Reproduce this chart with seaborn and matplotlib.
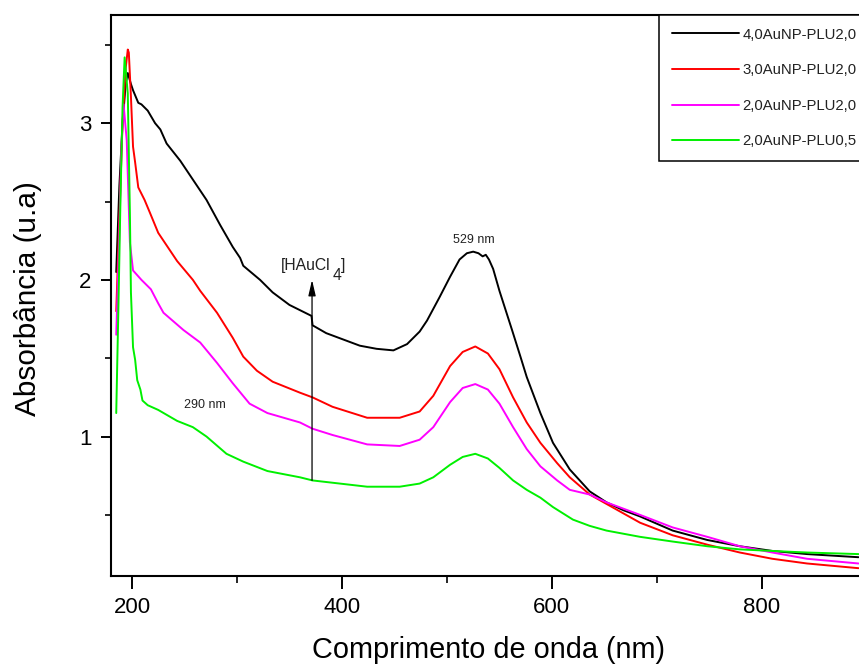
import numpy as np
import pandas as pd
import matplotlib
matplotlib.use("Agg")
import matplotlib.pyplot as plt
from matplotlib.ticker import MultipleLocator
import seaborn as sns

# UV-Vis spectra of the AuNP-PLU samples (wavelength in nm, absorbance in a.u.)
labels = ["4,0AuNP-PLU2,0", "3,0AuNP-PLU2,0", "2,0AuNP-PLU2,0", "2,0AuNP-PLU0,5"]
colors = ["#000000", "#ff0000", "#ff00ff", "#00f000"]

wl_black = [185, 188, 191, 194, 196, 199, 201, 206, 209, 215, 222, 227, 233, 246, 258,
            271, 284, 296, 303, 306, 322, 334, 350, 371, 372, 385, 401, 417, 433, 449,
            462, 474, 481, 493, 503, 512, 519, 525, 530, 534, 537, 540, 544, 550, 562,
            570, 576, 589, 601, 617, 636, 652, 668, 684, 715, 748, 779, 810, 843, 892]
abs_black = [2.05, 2.60, 3.00, 3.25, 3.32, 3.25, 3.21, 3.13, 3.12, 3.08, 3.00, 2.96, 2.87, 2.76, 2.64,
             2.51, 2.35, 2.21, 2.14, 2.09, 2.00, 1.92, 1.84, 1.77, 1.71, 1.66, 1.62, 1.58, 1.56, 1.55,
             1.59, 1.67, 1.74, 1.89, 2.02, 2.13, 2.17, 2.18, 2.17, 2.15, 2.16, 2.13, 2.07, 1.93, 1.68,
             1.51, 1.38, 1.15, 0.96, 0.79, 0.65, 0.58, 0.53, 0.49, 0.40, 0.34, 0.30, 0.27, 0.25, 0.23]

wl_red = [185, 188, 191, 194, 196, 197, 199, 201, 203, 206, 212, 217, 225, 243, 258,
          265, 281, 296, 306, 319, 334, 360, 372, 391, 424, 455, 474, 487, 503, 515,
          527, 539, 550, 563, 576, 589, 605, 617, 636, 652, 668, 684, 715, 748, 779,
          810, 843, 892]
abs_red = [1.80, 2.40, 3.00, 3.35, 3.47, 3.45, 3.17, 2.85, 2.75, 2.59, 2.51, 2.43, 2.30, 2.12, 2.00,
           1.93, 1.79, 1.63, 1.51, 1.42, 1.35, 1.28, 1.25, 1.19, 1.12, 1.12, 1.16, 1.26, 1.45, 1.54,
           1.575, 1.53, 1.43, 1.25, 1.09, 0.96, 0.83, 0.74, 0.63, 0.57, 0.51, 0.45, 0.37, 0.31, 0.26,
           0.22, 0.19, 0.16]

wl_mag = [185, 188, 190, 192, 195, 198, 201, 209, 218, 225, 230, 249, 265, 281, 296,
          312, 329, 360, 372, 391, 424, 455, 474, 487, 503, 515, 527, 539, 550, 563,
          576, 589, 605, 617, 636, 652, 668, 684, 715, 748, 779, 810, 843, 892]
abs_mag = [1.65, 2.30, 2.85, 3.12, 2.89, 2.24, 2.06, 2.00, 1.94, 1.85, 1.79, 1.68, 1.60, 1.47, 1.34,
           1.21, 1.15, 1.09, 1.05, 1.01, 0.95, 0.94, 0.98, 1.06, 1.22, 1.31, 1.335, 1.30, 1.21, 1.06,
           0.92, 0.81, 0.72, 0.66, 0.63, 0.58, 0.54, 0.50, 0.42, 0.36, 0.30, 0.26, 0.22, 0.19]

wl_grn = [185, 187, 189, 191, 193, 196, 198, 199, 201, 203, 205, 208, 210, 215, 225,
          243, 258, 271, 290, 306, 329, 360, 372, 424, 455, 474, 487, 503, 515, 527,
          539, 550, 563, 576, 589, 601, 620, 636, 652, 668, 684, 715, 748, 779, 810,
          843, 892]
abs_grn = [1.15, 1.80, 2.50, 3.10, 3.42, 3.19, 2.43, 1.92, 1.57, 1.49, 1.36, 1.30, 1.23, 1.20, 1.17,
           1.10, 1.06, 1.00, 0.89, 0.84, 0.78, 0.74, 0.72, 0.68, 0.68, 0.70, 0.74, 0.82, 0.87, 0.89,
           0.86, 0.80, 0.72, 0.66, 0.61, 0.55, 0.47, 0.43, 0.40, 0.38, 0.36, 0.33, 0.30, 0.28, 0.27,
           0.26, 0.25]

# Annotated features
peak_label = "529 nm"
shoulder_label = "290 nm"
arrow_wl, arrow_from, arrow_to = 371.5, 0.72, 2.0

series = [(wl_black, abs_black), (wl_red, abs_red), (wl_mag, abs_mag), (wl_grn, abs_grn)]
df = pd.concat(
    [pd.DataFrame({"wl": w, "A": a, "amostra": lab}) for (w, a), lab in zip(series, labels)],
    ignore_index=True,
)

sns.set_theme(style="ticks")
plt.rcParams["font.family"] = ["Liberation Sans", "DejaVu Sans"]
plt.rcParams["axes.linewidth"] = 1.5

fig = plt.figure(figsize=(8.59, 6.66), dpi=100)
ax = fig.add_axes([0.1292, 0.1351, 0.880, 0.8423])

sns.lineplot(data=df, x="wl", y="A", hue="amostra", hue_order=labels,
             palette=dict(zip(labels, colors)), sort=False, estimator=None,
             linewidth=1.4, legend=False, ax=ax)
for line in ax.get_lines():
    line.set_solid_joinstyle("round")

ax.set_xlim(180, 900)
ax.set_ylim(0.11, 3.69)

ax.xaxis.set_major_locator(MultipleLocator(200))
ax.xaxis.set_minor_locator(MultipleLocator(100))
ax.yaxis.set_major_locator(MultipleLocator(1))
ax.yaxis.set_minor_locator(MultipleLocator(0.5))

ax.tick_params(axis="x", which="major", direction="out", length=9.4, width=1.4,
               pad=5.5, labelsize=16, colors="black")
ax.tick_params(axis="x", which="minor", direction="out", length=5, width=1.4)
ax.tick_params(axis="y", which="major", direction="out", length=7.2, width=1.4,
               pad=7, labelsize=16, colors="black")
ax.tick_params(axis="y", which="minor", direction="out", length=4.3, width=1.4)
ax.tick_params(top=False, right=False, which="both")

for side in ["left", "bottom", "top", "right"]:
    ax.spines[side].set_color("black")
    ax.spines[side].set_linewidth(1.5)

ax.set_xlabel("Comprimento de onda (nm)", fontsize=20.8, color="black")
ax.set_ylabel("Absorbância (u.a)", fontsize=21.4, color="black")
ax.xaxis.set_label_coords(0.5, -0.107)
ax.yaxis.set_label_coords(-0.091, 0.494)

# Annotations
txt_kw = dict(color="#222222", fontsize=9)
ax.text(525.7, 2.254, peak_label, ha="center", va="center", **txt_kw)
ax.text(269, 1.20, shoulder_label, ha="center", va="center", **txt_kw)

chem_kw = dict(color="#222222", fontsize=11.3)
ax.text(342, 2.064, "[HAuCl", ha="left", va="baseline", **chem_kw)
ax.text(391.2, 2.0, "4", ha="left", va="baseline", **chem_kw)
ax.text(399.4, 2.064, "]", ha="left", va="baseline", **chem_kw)

ax.annotate("", xy=(arrow_wl, arrow_to), xytext=(arrow_wl, arrow_from),
            arrowprops=dict(arrowstyle="-|>,head_length=0.95,head_width=0.22",
                            mutation_scale=10, color="black", lw=0.9,
                            shrinkA=0, shrinkB=0))

handles = ax.get_lines()[:4]
leg = ax.legend(handles, labels, loc="upper left", bbox_to_anchor=(0.725, 1.0),
                frameon=True, fancybox=False, edgecolor="black", framealpha=1,
                fontsize=10.7, handlelength=4.5, handletextpad=0.27,
                labelspacing=1.45, borderpad=0.85, borderaxespad=0)
leg.get_frame().set_linewidth(1.1)
for t in leg.get_texts():
    t.set_color("#222222")

fig.savefig("out.png", dpi=100)
